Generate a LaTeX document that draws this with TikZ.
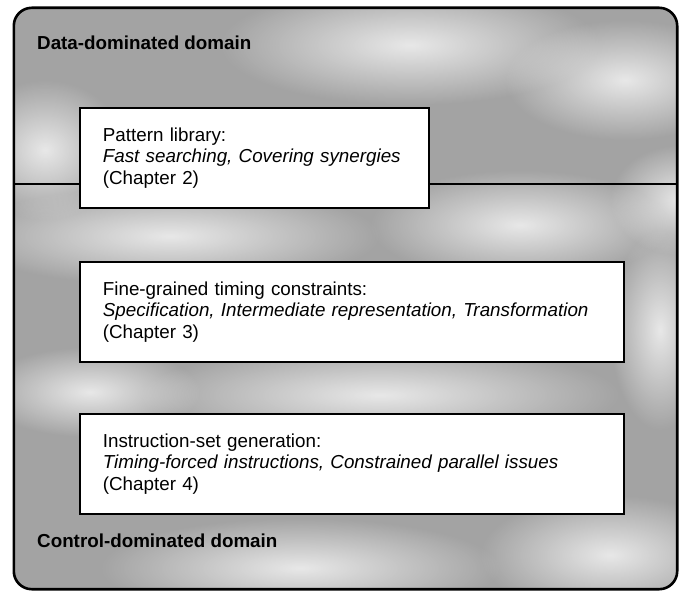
\documentclass[tikz,border=0pt]{standalone}
\usepackage{fontspec}
\setmainfont{Liberation Sans}
\usetikzlibrary{fadings}
\tikzfading[name=softspot, inner color=transparent!0, outer color=transparent!100]
\begin{document}
\definecolor{cloudbase}{gray}{0.64}
\tikzset{
  areafill/.style={fill=cloudbase, draw=none, rounded corners=18pt},
  areaborder/.style={draw=black, line width=2.6pt, rounded corners=18pt},
  divider/.style={draw=black, line width=2.4pt},
  topicbox/.style={draw=black, fill=white, line width=1.8pt, anchor=north west,
    inner xsep=23pt, inner ysep=0pt, minimum height=100pt, align=left,
    font=\fontsize{18.8}{21.3}\selectfont},
  domainlabel/.style={anchor=base west, inner sep=0pt,
    font=\fontsize{18.8}{21.3}\selectfont\bfseries},
  cloud/.style={fill=white, fill opacity=0.75, draw=none, path fading=softspot}
}
\begin{tikzpicture}[x=1pt, y=-1pt]
\useasboundingbox (0,0) rectangle (679,591);

% shaded design space
\node[areafill, minimum width=663pt, minimum height=581pt] (area) at (345.5,298.5) {};

% soft lighter patches in the halftone background
\begin{scope}
  \clip[rounded corners=18pt] (area.south west) rectangle (area.north east);
  \fill[cloud] (410,45) ellipse [x radius=190, y radius=60];
  \fill[cloud] (625,80) ellipse [x radius=120, y radius=60];
  \fill[cloud] (45,150) ellipse [x radius=80, y radius=70];
  \fill[cloud] (170,236) ellipse [x radius=210, y radius=50];
  \fill[cloud] (520,225) ellipse [x radius=150, y radius=55];
  \fill[cloud] (680,200) ellipse [x radius=70, y radius=55];
  \fill[cloud] (380,395) ellipse [x radius=240, y radius=50];
  \fill[cloud] (90,392) ellipse [x radius=110, y radius=45];
  \fill[cloud] (660,330) ellipse [x radius=50, y radius=100];
  \fill[cloud] (300,568) ellipse [x radius=200, y radius=50];
  \fill[cloud] (610,555) ellipse [x radius=130, y radius=60];
\end{scope}

% boundary between the two domains
\coordinate (split) at (0,184);
\draw[divider] (area.west |- split) -- (area.east |- split);

% domain names
\node[domainlabel] (datadom) at (37,50) {Data-dominated domain};
\node[domainlabel] (ctrldom) at (37,547) {Control-dominated domain};

% topics
\node[topicbox, text width=303pt] (patlib) at (79,107)
  {Pattern library:\\ \textit{Fast searching, Covering synergies}\\ (Chapter 2)};
\node[topicbox, text width=498pt] (timing) at (79,261)
  {Fine-grained timing constraints:\\ \textit{Specification, Intermediate representation, Transformation}\\ (Chapter 3)};
\node[topicbox, text width=498pt] (isagen) at (79,413)
  {Instruction-set generation:\\ \textit{Timing-forced instructions, Constrained parallel issues}\\ (Chapter 4)};

% outline of the design space
\draw[areaborder] (area.south west) rectangle (area.north east);
\end{tikzpicture}
\end{document}
